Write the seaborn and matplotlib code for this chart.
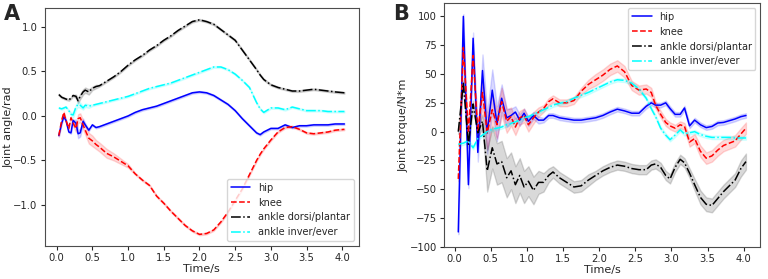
import numpy as np
import pandas as pd
import seaborn as sns
import matplotlib
matplotlib.use("Agg")
import matplotlib.pyplot as plt

# ---- Panel A: joint angles (rad) ----
t_a = [0.03, 0.07, 0.10, 0.13, 0.17, 0.20, 0.23, 0.27, 0.30, 0.33, 0.37, 0.40,
       0.45, 0.50, 0.55, 0.60, 0.70, 0.80, 0.90, 1.00, 1.10, 1.20, 1.30, 1.40,
       1.50, 1.60, 1.70, 1.80, 1.90, 2.00, 2.10, 2.20, 2.30, 2.40, 2.50, 2.60,
       2.70, 2.80, 2.85, 2.90, 3.00, 3.10, 3.20, 3.30, 3.40, 3.50, 3.60, 3.70,
       3.80, 3.90, 4.03]
hip_a = [-0.22, -0.08, -0.01, -0.05, -0.18, -0.19, -0.05, -0.08, -0.20, -0.19, -0.06, -0.10,
         -0.16, -0.10, -0.13, -0.12, -0.09, -0.06, -0.03, 0.00, 0.04, 0.07, 0.09, 0.11,
         0.14, 0.17, 0.20, 0.23, 0.26, 0.27, 0.26, 0.23, 0.18, 0.13, 0.06, -0.03,
         -0.11, -0.19, -0.21, -0.18, -0.14, -0.14, -0.10, -0.13, -0.11, -0.11, -0.10, -0.10,
         -0.10, -0.09, -0.09]
knee_a = [-0.22, -0.05, 0.04, -0.05, -0.14, -0.02, -0.08, -0.14, -0.03, -0.02, -0.10, -0.16,
          -0.25, -0.28, -0.32, -0.35, -0.42, -0.46, -0.51, -0.56, -0.65, -0.72, -0.78, -0.90,
          -0.98, -1.07, -1.15, -1.23, -1.29, -1.33, -1.32, -1.28, -1.19, -1.08, -0.95, -0.82,
          -0.66, -0.50, -0.43, -0.37, -0.27, -0.18, -0.13, -0.12, -0.15, -0.19, -0.20, -0.19,
          -0.18, -0.16, -0.15]
dorsi_a = [0.24, 0.21, 0.20, 0.19, 0.18, 0.20, 0.23, 0.22, 0.17, 0.22, 0.27, 0.29,
           0.27, 0.31, 0.33, 0.34, 0.39, 0.44, 0.50, 0.57, 0.63, 0.68, 0.74, 0.79,
           0.85, 0.90, 0.96, 1.01, 1.06, 1.08, 1.06, 1.03, 0.97, 0.91, 0.85, 0.74,
           0.63, 0.52, 0.46, 0.41, 0.35, 0.32, 0.30, 0.28, 0.28, 0.29, 0.30, 0.29,
           0.28, 0.27, 0.26]
inver_a = [0.09, 0.08, 0.09, 0.10, 0.06, 0.02, 0.01, 0.10, 0.13, 0.12, 0.09, 0.12,
           0.11, 0.12, 0.13, 0.14, 0.16, 0.18, 0.20, 0.22, 0.25, 0.28, 0.31, 0.33,
           0.35, 0.37, 0.40, 0.43, 0.46, 0.49, 0.52, 0.55, 0.55, 0.52, 0.47, 0.40,
           0.32, 0.15, 0.08, 0.04, 0.09, 0.09, 0.07, 0.10, 0.08, 0.06, 0.06, 0.06,
           0.05, 0.05, 0.05]
# half-width of the shaded band
hip_a_sd = [0.01] * 7 + [0.04, 0.05, 0.04, 0.03, 0.02] + [0.01] * 39
knee_a_sd = [0.01] * 6 + [0.03, 0.04, 0.05, 0.05, 0.05, 0.05, 0.06, 0.06, 0.05, 0.05,
                          0.05, 0.04, 0.03, 0.02] + [0.01] * 31
dorsi_a_sd = [0.01] * 7 + [0.02, 0.03, 0.03, 0.03, 0.03, 0.03, 0.02, 0.02] + [0.01] * 36
inver_a_sd = [0.01] * 5 + [0.02, 0.03, 0.03, 0.03, 0.03, 0.02, 0.02, 0.02] + [0.01] * 38

# ---- Panel B: joint torques (N*m) ----
t_b = [0.05, 0.12, 0.19, 0.255, 0.32, 0.385, 0.45, 0.52, 0.585, 0.65, 0.72, 0.78,
       0.84, 0.90, 0.96, 1.02, 1.09, 1.16, 1.23, 1.30, 1.36, 1.45, 1.55, 1.65,
       1.75, 1.85, 1.95, 2.05, 2.15, 2.25, 2.35, 2.45, 2.55, 2.65, 2.72, 2.78,
       2.85, 2.92, 2.98, 3.05, 3.12, 3.18, 3.25, 3.32, 3.40, 3.48, 3.56, 3.64,
       3.72, 3.80, 3.88, 3.96, 4.03]
hip_b = [-87, 100, -46, 81, -18, 53, -1, 36, 7, 29, 12, 14,
         17, 10, 16, 9, 14, 10, 10, 14, 14, 12, 11, 10,
         10, 11, 12, 14, 17, 19.5, 18, 16, 16, 22, 25, 23,
         23, 25, 20, 15, 15, 20.5, 5, 10, 6, 3.5, 4.5, 7.5,
         8, 9.5, 11, 13, 14]
knee_b = [-41, 73, -1, 66, 0, 34, -1, 19, 6, 26, 9, 13,
          4, 12, 14, 6, 12, 17, 20, 26, 28.5, 25, 25, 27,
          35, 41, 45, 49, 54, 57, 52, 40, 36, 37, 34, 23,
          15, 8, 5, 3, 6, 4.5, -9, -6, -17, -23, -21, -16,
          -12, -10, -8, -2, 3]
dorsi_b = [0, 42, -11, 24, -1, 9, -34, -14, -28, -26, -40, -34,
           -46, -38, -48, -43, -51, -44, -44, -38, -35, -40, -44, -48,
           -47, -42, -38, -34, -31, -29, -30, -32, -33, -33, -29, -28,
           -31, -38, -41, -31, -24, -27, -36, -46, -57, -63, -64, -58,
           -52, -47, -42, -32, -26]
inver_b = [-11, -10, -8, -14, -6, -3, 0, 2, 3, 4, 6, 7,
           8.5, 10, 12, 13, 15, 17, 19, 21, 23, 24.5, 26, 29,
           31.5, 34, 37, 40, 43, 45, 44.5, 42, 37, 29, 20, 13,
           3, -3, -7, -3, 1.5, -2, -1, 0, -2.5, -4, -5, -5,
           -5, -5, -5.5, -5.5, -5.5]
hip_b_sd = [2, 2, 3, 5, 8, 14, 18, 18, 15, 12, 8, 6,
            5, 5, 4, 4, 3, 3] + [2] * 35
knee_b_sd = [2, 2, 3, 4, 6, 12, 14, 14, 12, 12, 10, 8,
             7, 6, 6, 6, 5, 4, 3, 3, 3, 3, 3, 3,
             3, 4, 5, 5, 5, 5, 5, 4, 4, 4, 4, 3,
             3, 3, 3, 3, 3, 3, 4, 4, 5, 5, 5, 5,
             5, 5, 5, 5, 5]
dorsi_b_sd = [2, 3, 3, 3, 4, 6, 18, 18, 18, 18, 17, 16,
              16, 15, 14, 13, 12, 10, 8, 6, 5, 5, 5, 5,
              5, 5, 4, 4, 4, 4, 4, 4, 4, 4, 4, 4,
              4, 4, 4, 4, 4, 4, 4, 5, 6, 6, 6, 6,
              6, 6, 6, 7, 7]
inver_b_sd = [1.5] * 53

labels = ["hip", "knee", "ankle dorsi/plantar", "ankle inver/ever"]
colors = ["blue", "red", "black", "cyan"]
styles = ["-", "--", "-.", "-."]

sns.set_style("ticks")
plt.rcParams["font.family"] = ["DejaVu Sans"]
plt.rcParams["font.size"] = 8


def draw(ax, t, mean, sd, color, ls, label):
    # three samples per time point -> seaborn band spans mean +/- sd
    mean = np.array(mean, dtype=float)
    sd = np.array(sd, dtype=float)
    df = pd.DataFrame({"t": np.tile(t, 3),
                       "v": np.concatenate([mean - sd, mean, mean + sd])})
    sns.lineplot(data=df, x="t", y="v", ax=ax, color=color, linestyle=ls,
                 label=label, errorbar=("pi", 100), linewidth=1.1,
                 err_kws={"alpha": 0.15})


fig = plt.figure(figsize=(7.68, 2.79), dpi=100)
ax1 = fig.add_axes([0.058, 0.118, 0.409, 0.853])
ax2 = fig.add_axes([0.578, 0.115, 0.412, 0.874])

for m, s, c, ls, lb in zip([hip_a, knee_a, dorsi_a, inver_a],
                           [hip_a_sd, knee_a_sd, dorsi_a_sd, inver_a_sd],
                           colors, styles, labels):
    draw(ax1, t_a, m, s, c, ls, lb)
for m, s, c, ls, lb in zip([hip_b, knee_b, dorsi_b, inver_b],
                           [hip_b_sd, knee_b_sd, dorsi_b_sd, inver_b_sd],
                           colors, styles, labels):
    draw(ax2, t_b, m, s, c, ls, lb)

ax1.set_xticks([0.0, 0.5, 1.0, 1.5, 2.0, 2.5, 3.0, 3.5, 4.0])
ax1.set_yticks([-1.0, -0.5, 0.0, 0.5, 1.0])
ax1.set_xlabel("Time/s", labelpad=1, fontsize=8)
ax1.set_ylabel("Joint angle/rad", labelpad=0, fontsize=8)
ax1.legend(loc="lower right", fontsize=7)

ax2.set_xticks([0.0, 0.5, 1.0, 1.5, 2.0, 2.5, 3.0, 3.5, 4.0])
ax2.set_yticks([-100, -75, -50, -25, 0, 25, 50, 75, 100])
ax2.set_xlabel("Time/s", labelpad=1, fontsize=8)
ax2.set_ylabel("Joint torque/N*m", labelpad=1, fontsize=8)
ax2.legend(loc="upper right", fontsize=7)

for ax in [ax1, ax2]:
    ax.tick_params(labelsize=7.2, length=3, pad=2)
    for sp in ax.spines.values():
        sp.set_color("0.3")
        sp.set_linewidth(0.8)

fig.text(0.005, 0.985, "A", fontsize=15, fontweight="bold", va="top")
fig.text(0.512, 0.985, "B", fontsize=15, fontweight="bold", va="top")

fig.savefig("out.png", dpi=100)
